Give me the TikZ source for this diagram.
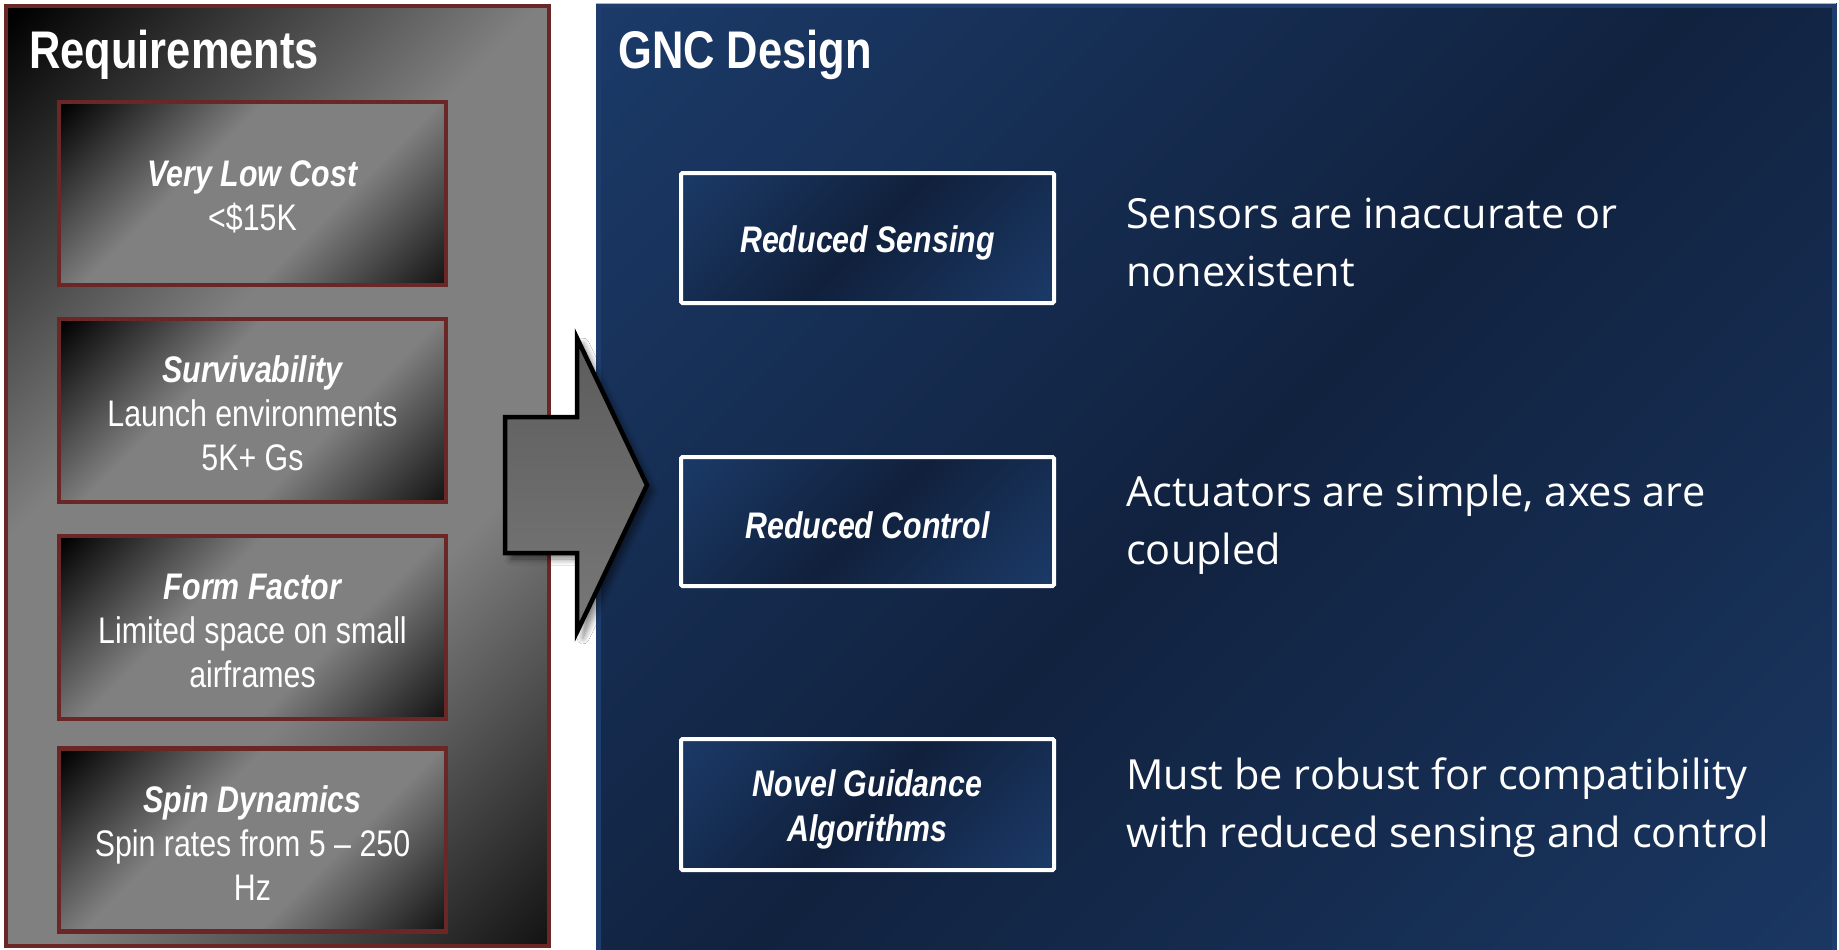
\documentclass[tikz,border=0pt]{standalone}
\usepackage{fontspec}
\setmainfont{Liberation Sans}
\newfontfamily\narrowfont[FakeStretch=0.82]{Liberation Sans}
\newfontfamily\bodyfont{Open Sans}
\usetikzlibrary{shadows.blur}

\definecolor{reqred}{HTML}{6B2626}
\definecolor{midgrey}{HTML}{808080}
\definecolor{navyA}{HTML}{1B3A68}
\definecolor{navyB}{HTML}{11223F}
\definecolor{navyC}{HTML}{1A3762}
\definecolor{navyEdge}{HTML}{1E3D6C}
\definecolor{arrowTop}{HTML}{5C5C5C}
\definecolor{arrowBot}{HTML}{787878}

% diagonal shadings: dark corners with a lighter band through the middle
\pgfdeclarehorizontalshading{greyshade}{100bp}{%
  color(0bp)=(black); color(15bp)=(black); color(40bp)=(midgrey);
  color(62bp)=(midgrey); color(85bp)=(black!92); color(100bp)=(black)}
\pgfdeclarehorizontalshading{navyshade}{100bp}{%
  color(0bp)=(navyA); color(15bp)=(navyA); color(50bp)=(navyB);
  color(85bp)=(navyC); color(100bp)=(navyC)}
\pgfdeclarehorizontalshading{boxshade}{100bp}{%
  color(0bp)=(navyA); color(15bp)=(navyA); color(50bp)=(navyB!95!black);
  color(85bp)=(navyA); color(100bp)=(navyA)}

\tikzset{
  panelgrey/.style={draw=reqred, line width=4pt, shading=greyshade, shading angle=-45},
  panelnavy/.style={draw=navyEdge, line width=5pt, shading=navyshade, shading angle=-45},
  reqbox/.style={draw=reqred, line width=4.5pt, shading=greyshade, shading angle=-45,
    minimum width=387pt, minimum height=183pt, inner sep=0pt, align=center,
    text=white, font=\narrowfont\fontsize{37}{44}\selectfont},
  gncbox/.style={draw=white, line width=4pt, rounded corners=1.5pt, shading=boxshade,
    shading angle=-45, minimum width=373pt, inner sep=0pt, align=center, text=white,
    font=\narrowfont\bfseries\itshape\fontsize{37}{45}\selectfont},
  gnclabel/.style={inner sep=0pt, align=center, text=white,
    font=\narrowfont\bfseries\itshape\fontsize{37}{45}\selectfont},
  reqlabel/.style={inner sep=0pt, align=center, text=white,
    font=\narrowfont\fontsize{37}{44}\selectfont},
  note/.style={anchor=west, inner sep=0pt, align=left, text=white,
    font=\bodyfont\fontsize{41.5}{58}\selectfont},
  heading/.style={anchor=base west, inner sep=0pt, text=white,
    font=\narrowfont\bfseries\fontsize{53}{60}\selectfont},
  bigarrow/.style={draw=black, line width=4.5pt, line join=miter,
    top color=arrowTop, bottom color=arrowBot,
    blur shadow={shadow xshift=6pt, shadow yshift=-6pt, shadow blur steps=10,
      shadow blur radius=6pt, shadow opacity=50}}
}

\newcommand{\reqhead}[1]{{\bfseries\itshape #1}}

\begin{document}
\begin{tikzpicture}[x=1pt, y=-1pt]
  \useasboundingbox (0,0) rectangle (1839,950);
  \fill[white] (0,0) rectangle (1839,950);

  % the two panels
  \path[panelgrey] (6,6) rectangle (549,946);
  \path[panelnavy] (598,6) rectangle (1834,954);
  \draw[gray!60, line width=1pt] (596,3.5) -- (1836,3.5);

  \node[heading] (reqtitle) at (29,69) {Requirements};
  \node[heading] (gnctitle) at (618,69) {GNC Design};

  % requirement boxes
  \node[reqbox] (cost) at (252.5,193.5) {};
  \node[reqbox] (surv) at (252.5,410.5) {};
  \node[reqbox] (form) at (252.5,627.5) {};
  \node[reqbox] (spin) at (252.5,840) {};
  \node[reqlabel] at ([yshift=-3pt]cost.center) {\reqhead{Very Low Cost}\\<\$15K};
  \node[reqlabel] at ([yshift=-3pt]surv.center) {\reqhead{Survivability}\\Launch environments\\5K+ Gs};
  \node[reqlabel] at ([yshift=-3pt]form.center) {\reqhead{Form Factor}\\Limited space on small\\airframes};
  \node[reqlabel] at ([yshift=-3pt]spin.center) {\reqhead{Spin Dynamics}\\Spin rates from 5 – 250\\Hz};

  % block arrow from requirements to design
  \path[bigarrow] (505,417) -- (577,417) -- (577,338) -- (647,485)
    -- (577,632) -- (577,553) -- (505,553) -- cycle;

  % design boxes
  \node[gncbox, minimum height=130pt] (sense) at (867.5,238) {};
  \node[gncbox, minimum height=129pt] (ctrl) at (867.5,521.5) {};
  \node[gncbox, minimum height=131pt] (guid) at (867.5,804.5) {};
  \node[gnclabel] at ([yshift=-5pt]sense.center) {Reduced Sensing};
  \node[gnclabel] at ([yshift=-4pt]ctrl.center) {Reduced Control};
  \node[gnclabel] at ([yshift=-5pt]guid.center) {Novel Guidance\\Algorithms};

  % notes beside the design boxes
  \node[note] (sensenote) at (1126,242) {Sensors are inaccurate or\\nonexistent};
  \node[note] (ctrlnote) at (1126,525) {Actuators are simple, axes are\\coupled};
  \node[note] (guidnote) at (1126,808) {Must be robust for compatibility\\with reduced sensing and control};
\end{tikzpicture}
\end{document}
